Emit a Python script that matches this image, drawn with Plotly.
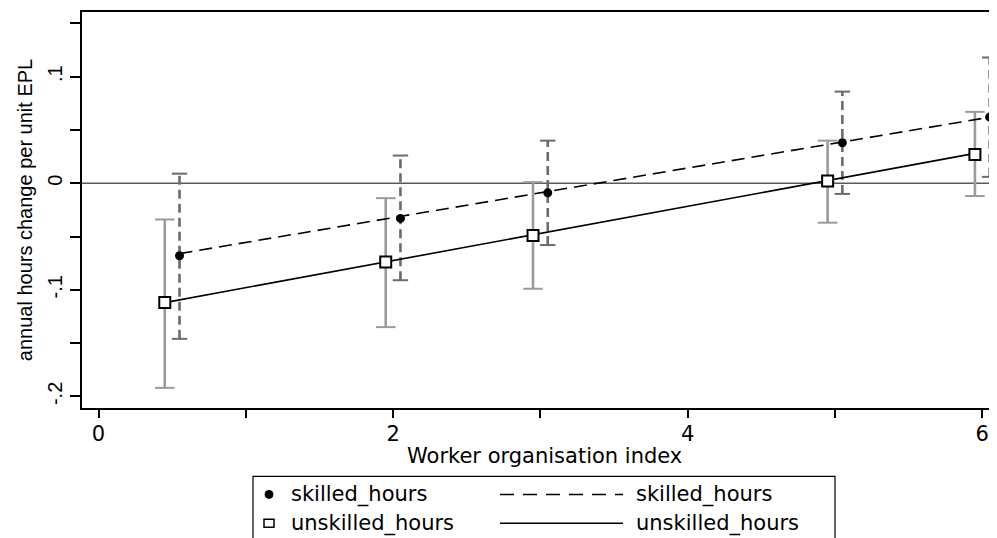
import plotly.graph_objects as go

# ---- data ----
skilled_x = [0.55, 2.05, 3.05, 5.05, 6.05]
skilled_est = [-0.068, -0.033, -0.009, 0.038, 0.062]
skilled_lo = [-0.146, -0.091, -0.058, -0.010, 0.006]
skilled_hi = [0.009, 0.026, 0.040, 0.086, 0.118]

unskilled_x = [0.45, 1.95, 2.95, 4.95, 5.95]
unskilled_est = [-0.112, -0.074, -0.049, 0.002, 0.027]
unskilled_lo = [-0.192, -0.135, -0.099, -0.037, -0.012]
unskilled_hi = [-0.034, -0.014, 0.001, 0.040, 0.067]

skilled_fit_x = [0.55, 6.05]
skilled_fit_y = [-0.066, 0.062]
unskilled_fit_x = [0.45, 5.95]
unskilled_fit_y = [-0.112, 0.028]

x_ticks = [0, 2, 4, 6]
x_ticklabels = ["0", "2", "4", "6"]
y_ticks = [-0.2, -0.1, 0, 0.1]
y_ticklabels = ["-.2", "-.1", "0", ".1"]

series_names = ["skilled_hours", "unskilled_hours"]
x_title = "Worker organisation index"
y_title = "annual hours change per unit EPL"

# ---- layout geometry (reference pixels; page has an 8px body margin) ----
OFF = 8
W, H = 997 - OFF, 538 - OFF
L, T = 82 - OFF, 12 - OFF
R = 0
B = H - (408.5 - OFF)
PW, PH = W - L - R, H - T - B


def px(x):
    return (x - OFF - L) / PW


def py(y):
    return (H - B - (y - OFF)) / PH


HFONT = "DejaVu Sans, Liberation Sans, sans-serif"
VFONT = "Liberation Sans, Arial, sans-serif"
HFS = 21  # horizontal text size
VFS = 20  # vertical text size


def segs(xs, lo, hi):
    X, Y = [], []
    for a, l, h in zip(xs, lo, hi):
        X += [a, a, None]
        Y += [l, h, None]
    return X, Y


fig = go.Figure()

# unskilled CI
ux, uy = segs(unskilled_x, unskilled_lo, unskilled_hi)
fig.add_trace(go.Scatter(x=ux, y=uy, mode="lines",
                         line=dict(color="#9a9a9a", width=2.6),
                         showlegend=False, hoverinfo="skip"))
fig.add_trace(go.Scatter(x=unskilled_x * 2, y=unskilled_lo + unskilled_hi,
                         mode="markers",
                         marker=dict(symbol="line-ew", size=14, color="#9a9a9a",
                                     line=dict(color="#9a9a9a", width=2)),
                         showlegend=False, hoverinfo="skip"))
# skilled CI (dashed)
sx, sy = segs(skilled_x, skilled_lo, skilled_hi)
fig.add_trace(go.Scatter(x=sx, y=sy, mode="lines",
                         line=dict(color="#6b6b6b", width=2.6, dash="9px,5px"),
                         showlegend=False, hoverinfo="skip"))
fig.add_trace(go.Scatter(x=skilled_x * 2, y=skilled_lo + skilled_hi,
                         mode="markers",
                         marker=dict(symbol="line-ew", size=11, color="#6b6b6b",
                                     line=dict(color="#6b6b6b", width=2)),
                         showlegend=False, hoverinfo="skip"))
# fit lines
fig.add_trace(go.Scatter(x=skilled_fit_x, y=skilled_fit_y, mode="lines",
                         line=dict(color="black", width=1.6, dash="13px,7px"),
                         name=series_names[0], showlegend=False))
fig.add_trace(go.Scatter(x=unskilled_fit_x, y=unskilled_fit_y, mode="lines",
                         line=dict(color="black", width=1.6),
                         name=series_names[1], showlegend=False))
# point estimates
fig.add_trace(go.Scatter(x=skilled_x, y=skilled_est, mode="markers",
                         marker=dict(symbol="circle", size=9, color="black"),
                         name=series_names[0], showlegend=False, cliponaxis=False))
fig.add_trace(go.Scatter(x=unskilled_x, y=unskilled_est, mode="markers",
                         marker=dict(symbol="square", size=11, color="white",
                                     line=dict(color="black", width=2)),
                         name=series_names[1], showlegend=False))

shapes = []
# zero line
shapes.append(dict(type="line", xref="paper", yref="y", x0=0, x1=1, y0=0, y1=0,
                   line=dict(color="#5a5a5a", width=1.5), layer="below"))

# manual legend (Stata style)
shapes.append(dict(type="rect", xref="paper", yref="paper",
                   x0=px(253), x1=px(835), y0=py(477), y1=py(560),
                   line=dict(color="black", width=1.2), fillcolor="rgba(0,0,0,0)"))
r1, r2 = 495, 524
shapes.append(dict(type="circle", xref="paper", yref="paper",
                   x0=px(265), x1=px(273), y0=py(r1 - 4), y1=py(r1 + 4),
                   fillcolor="black", line=dict(color="black", width=1)))
shapes.append(dict(type="rect", xref="paper", yref="paper",
                   x0=px(264), x1=px(274), y0=py(r2 - 4), y1=py(r2 + 4),
                   fillcolor="white", line=dict(color="black", width=1.5)))
shapes.append(dict(type="line", xref="paper", yref="paper",
                   x0=px(500), x1=px(623), y0=py(r1), y1=py(r1),
                   line=dict(color="black", width=1.5, dash="14px,9px")))
shapes.append(dict(type="line", xref="paper", yref="paper",
                   x0=px(500), x1=px(623), y0=py(r2), y1=py(r2),
                   line=dict(color="black", width=1.5)))

hfont = dict(family=HFONT, size=HFS, color="black")
vfont = dict(family=VFONT, size=VFS, color="black")

annotations = []
for (tx, ty, t) in [(289, r1, series_names[0]), (289, r2, series_names[1]),
                    (634, r1, series_names[0]), (634, r2, series_names[1])]:
    annotations.append(dict(x=px(tx), y=py(ty), xref="paper", yref="paper",
                            text=t, showarrow=False, xanchor="left", yanchor="middle",
                            font=hfont))
# x-axis title
annotations.append(dict(x=px(544), y=py(457), xref="paper", yref="paper",
                        text=x_title, showarrow=False, xanchor="center",
                        yanchor="middle", font=hfont))

fig.update_layout(
    width=W, height=H,
    margin=dict(l=L, r=R, t=T, b=B, pad=0),
    paper_bgcolor="white", plot_bgcolor="white",
    showlegend=False,
    shapes=shapes, annotations=annotations,
    xaxis=dict(range=[-0.112, 6.1], showgrid=False, zeroline=False,
               showline=True, linecolor="black", linewidth=1.5, mirror=True,
               ticks="outside", ticklen=8, tickwidth=1.5, tickcolor="black",
               tickvals=x_ticks, ticktext=x_ticklabels, tickfont=hfont,
               ticklabelstandoff=-2,
               minor=dict(tickvals=[1, 3, 5], ticks="outside", ticklen=8,
                          tickwidth=1.5, tickcolor="black", showgrid=False),
               automargin=False),
    yaxis=dict(range=[-0.2109, 0.1607], showgrid=False, zeroline=False,
               showline=True, linecolor="black", linewidth=1.5, mirror=False,
               ticks="outside", ticklen=10, tickwidth=1.5, tickcolor="black",
               tickvals=y_ticks, ticktext=y_ticklabels, tickangle=-90,
               tickfont=vfont,
               minor=dict(tickvals=[-0.15, -0.05, 0.05, 0.15], ticks="outside",
                          ticklen=10, tickwidth=1.5, tickcolor="black", showgrid=False),
               title=dict(text=y_title, font=vfont, standoff=6),
               automargin=False),
)

fig.write_html("out.html")
